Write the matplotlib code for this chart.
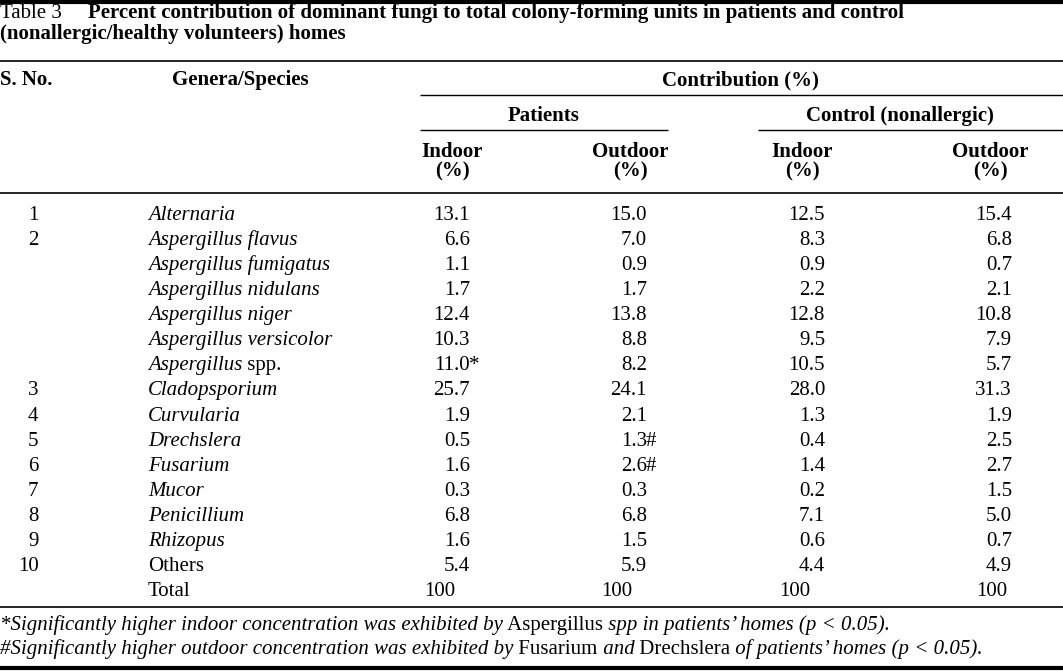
import matplotlib
matplotlib.use("Agg")
import matplotlib.pyplot as plt

plt.rcParams['font.family'] = ['Liberation Serif', 'DejaVu Serif']

# table data
sno = ['1', '2', '', '', '', '', '', '3', '4', '5', '6', '7', '8', '9', '10']
# (italic part, roman part)
genera = [('Alternaria', ''), ('Aspergillus flavus', ''), ('Aspergillus fumigatus', ''),
          ('Aspergillus nidulans', ''), ('Aspergillus niger', ''), ('Aspergillus versicolor', ''),
          ('Aspergillus', ' spp.'), ('Cladopsporium', ''), ('Curvularia', ''), ('Drechslera', ''),
          ('Fusarium', ''), ('Mucor', ''), ('Penicillium', ''), ('Rhizopus', ''), ('', 'Others')]
patients_indoor = [13.1, 6.6, 1.1, 1.7, 12.4, 10.3, 11.0, 25.7, 1.9, 0.5, 1.6, 0.3, 6.8, 1.6, 5.4]
patients_outdoor = [15.0, 7.0, 0.9, 1.7, 13.8, 8.8, 8.2, 24.1, 2.1, 1.3, 2.6, 0.3, 6.8, 1.5, 5.9]
control_indoor = [12.5, 8.3, 0.9, 2.2, 12.8, 9.5, 10.5, 28.0, 1.3, 0.4, 1.4, 0.2, 7.1, 0.6, 4.4]
control_outdoor = [15.4, 6.8, 0.7, 2.1, 10.8, 7.9, 5.7, 31.3, 1.9, 2.5, 2.7, 1.5, 5.0, 0.7, 4.9]
patients_indoor_marks = {6: '*'}
patients_outdoor_marks = {9: '#', 10: '#'}
totals = ['100', '100', '100', '100']

FS = 15
W, H = 1063, 672

fig = plt.figure(figsize=(W / 100, H / 100), dpi=100)
ax = fig.add_axes([0, 0, 1, 1])
ax.set_xlim(0, W)
ax.set_ylim(H, 0)
ax.axis('off')
rend = fig.canvas.get_renderer()


def run(x, y, parts, size=FS):
    # draw text pieces one after another on a baseline
    for txt, style, weight in parts:
        t = ax.text(x, y, txt, fontsize=size, fontstyle=style, fontweight=weight,
                    va='baseline', ha='left')
        x = t.get_window_extent(rend).x1
    return x


def hline(y, x0, x1, lw=1.2):
    ax.plot([x0, x1], [y, y], color='black', lw=lw, solid_capstyle='butt')


# rules
hline(2, 0, W, lw=3)
hline(61, 0, W)
hline(95, 420, W, lw=1.0)
hline(130, 420, 668, lw=1.0)
hline(130, 758, W, lw=1.0)
hline(193, 0, W)
hline(607, 0, W)
hline(668, 0, W, lw=3)

# title
ax.text(0, 18, 'Table 3', fontsize=FS, va='baseline', ha='left')
ax.text(88, 18, 'Percent contribution of dominant fungi to total colony-forming units in patients and control',
        fontsize=FS, fontweight='bold', va='baseline', ha='left')
ax.text(0, 39, '(nonallergic/healthy volunteers) homes', fontsize=FS, fontweight='bold',
        va='baseline', ha='left')

# header
hb = dict(fontsize=FS, fontweight='bold', va='baseline')
ax.text(0, 85, 'S. No.', ha='left', **hb)
ax.text(240, 85, 'Genera/Species', ha='center', **hb)
ax.text(740, 85, 'Contribution (%)', ha='center', **hb)
ax.text(544, 121, 'Patients', ha='center', **hb)
ax.text(900, 121, 'Control (nonallergic)', ha='center', **hb)
for cx, lab in [(452, 'Indoor'), (630, 'Outdoor'), (802, 'Indoor'), (990, 'Outdoor')]:
    ax.text(cx, 157, lab, ha='center', **hb)
    ax.text(cx, 176, '(%)', ha='center', **hb)

# body
y0, dy = 220, 25.07
cols = [(470, patients_indoor, patients_indoor_marks),
        (647, patients_outdoor, patients_outdoor_marks),
        (825, control_indoor, {}),
        (1012, control_outdoor, {})]
for i in range(len(sno)):
    y = y0 + i * dy
    ax.text(38.5, y, sno[i], fontsize=FS, ha='right', va='baseline')
    it, ro = genera[i]
    run(148, y, [(it, 'italic', 'normal'), (ro, 'normal', 'normal')])
    for xr, vals, marks in cols:
        ax.text(xr, y, f'{vals[i]:.1f}', fontsize=FS, ha='right', va='baseline')
        if i in marks:
            ax.text(xr - 1, y, marks[i], fontsize=FS, ha='left', va='baseline')

y = y0 + len(sno) * dy
ax.text(148, y, 'Total', fontsize=FS, ha='left', va='baseline')
for xr, tot in zip([455, 632, 810, 1007], totals):
    ax.text(xr, y, tot, fontsize=FS, ha='right', va='baseline')

# footnotes
run(0, 630, [('*Significantly higher indoor concentration was exhibited by', 'italic', 'normal'),
             (' Aspergillus', 'normal', 'normal'),
             (' spp in patients\u2019 homes (p < 0.05).', 'italic', 'normal')])
run(0, 654, [('#Significantly higher outdoor concentration was exhibited by', 'italic', 'normal'),
             (' Fusarium', 'normal', 'normal'),
             (' and', 'italic', 'normal'),
             (' Drechslera', 'normal', 'normal'),
             (' of patients\u2019 homes (p < 0.05).', 'italic', 'normal')])

fig.savefig('out.png', dpi=100)
